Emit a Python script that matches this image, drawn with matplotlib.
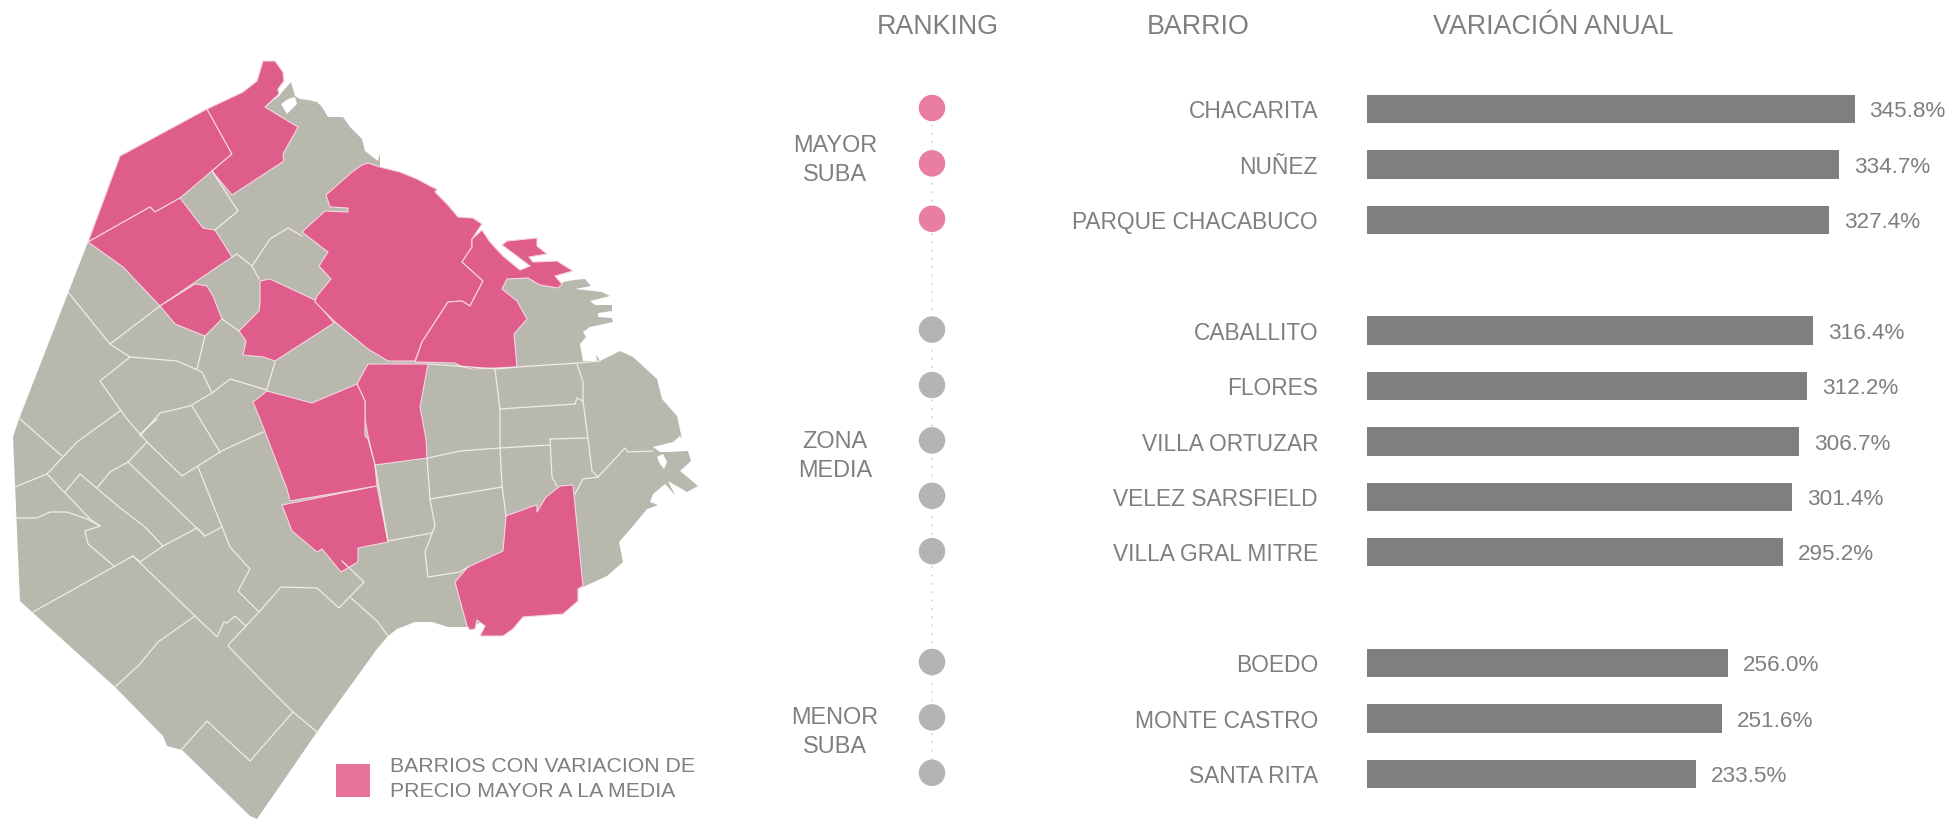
import matplotlib
matplotlib.use("Agg")
import matplotlib.pyplot as plt
from matplotlib.patches import Polygon, Rectangle

plt.rcParams['font.family'] = ['Liberation Sans', 'DejaVu Sans']

# ---------- datos ----------
barrios = ["CHACARITA", "NUÑEZ", "PARQUE CHACABUCO",
           "CABALLITO", "FLORES", "VILLA ORTUZAR", "VELEZ SARSFIELD", "VILLA GRAL MITRE",
           "BOEDO", "MONTE CASTRO", "SANTA RITA"]
variacion = [345.8, 334.7, 327.4, 316.4, 312.2, 306.7, 301.4, 295.2, 256.0, 251.6, 233.5]
filas = [0, 1, 2, 4, 5, 6, 7, 8, 10, 11, 12]
grupo_fila = ["mayor"] * 3 + ["media"] * 5 + ["menor"] * 3
grupos = ["MAYOR\nSUBA", "ZONA\nMEDIA", "MENOR\nSUBA"]
grupos_centro = [0.92, 6.26, 11.24]
encabezados = ["RANKING", "BARRIO", "VARIACIÓN ANUAL"]
leyenda = "BARRIOS CON VARIACION DE\nPRECIO MAYOR A LA MEDIA"

# contorno de la ciudad in px
contorno = [(265,108),(279,97),(283,92),(291,83),(295,97),(300,100),(308,101),(317,103),(322,108),(328,118),(343,118),
            (350,128),(362,140),(365,152),(378,162),(380,154),(380,168),(507,280),(528,279),(540,286),(558,289),
            (563,283),(574,281),(585,280),(591,287),(575,290),(602,293),(610,297),(590,302),(595,306),(612,306),
            (612,312),(598,314),(598,318),(612,319),(613,323),(590,328),(583,333),(590,345),(600,362),(620,352),
            (633,358),(657,380),(662,400),(677,417),(682,440),(680,437),(673,443),(653,448),(660,453),(667,453),
            (688,452),(691,462),(680,472),(698,487),(687,493),(668,482),(675,496),(665,485),(653,495),(650,503),
            (658,506),(647,510),(633,527),(619,543),(623,563),(607,577),(583,588),(468,628),(448,628),(432,623),
            (415,623),(397,630),(388,637),(377,650),(317,733),(257,820),(250,817),(182,751),(167,747),(163,737),
            (115,688),(32,613),(20,602),(13,438),(19,420),(88,243),(200,170)]
huecos = [[(281,105),(288,100),(295,98),(297,105),(287,115)],
          [(580,345),(587,337),(595,348),(597,362),(583,362)],
          [(657,458),(663,455),(667,463),(664,470),(660,465)]]

barrios_rosa = [
    [(88,243),(120,157),(207,110),(232,155),(212,172),(180,199),(155,213),(150,208)],
    [(207,110),(243,93),(257,82),(263,62),(275,62),(283,73),(284,82),(278,90),(279,95),(265,108),(298,128),
     (283,155),(284,162),(232,196),(212,172),(232,155)],
    [(88,243),(150,208),(155,213),(180,199),(203,229),(215,231),(232,258),(160,307),(123,268)],
    [(160,307),(195,285),(207,287),(213,297),(222,320),(205,337),(175,325)],
    [(260,282),(270,280),(315,301),(334,324),(275,362),(263,358),(243,356),(246,342),(239,332),(259,312),(260,303)],
    [(302,233),(325,212),(348,213),(348,209),(330,208),(326,196),(352,173),(362,166),(368,164),(380,168),(400,173),
     (417,180),(432,188),(437,190),(435,193),(447,205),(458,218),(473,219),(482,225),(472,240),(472,248),(462,263),
     (483,282),(470,307),(462,302),(448,303),(422,343),(415,362),(388,362),(368,350),(335,323),(315,303),(317,297),
     (331,280),(319,267),(328,253)],
    [(415,363),(422,343),(448,303),(462,302),(470,307),(483,282),(462,263),(472,248),(472,240),(482,231),(490,243),
     (503,257),(520,271),(530,267),(502,246),(507,242),(537,239),(537,247),(547,255),(529,258),(533,263),(557,262),
     (573,272),(555,277),(562,285),(558,289),(540,286),(528,279),(507,280),(502,290),(517,302),(527,320),(514,335),
     (517,368),(473,370),(463,368),(455,364)],
    [(368,365),(428,365),(420,408),(426,440),(427,459),(375,466),(368,437),(365,420),(365,402),(357,385)],
    [(253,403),(267,392),(312,404),(357,385),(365,402),(365,437),(368,440),(375,466),(377,487),(290,502),(287,490),(260,420)],
    [(282,506),(377,487),(388,543),(358,549),(358,563),(341,573),(322,550),(317,553),(292,532)],
    [(455,583),(468,568),(503,552),(506,517),(533,507),(537,506),(537,513),(546,498),(560,487),(573,486),(583,587),
     (578,590),(578,602),(563,615),(523,618),(513,630),(503,637),(480,637),(485,627),(477,621),(475,630),(470,631),(467,627)],
]

limites = [
    [(68,293),(110,345),(130,358),(177,362),(202,373),(212,394),(190,407),(160,414),(140,437)],
    [(110,345),(160,307)],
    [(130,358),(100,382),(127,420),(147,443),(182,477),(220,453),(230,448),(263,433)],
    [(120,412),(77,443),(47,475),(15,488)],
    [(20,420),(62,457)],
    [(205,337),(197,370)],
    [(222,320),(239,332)],
    [(237,255),(252,267),(259,280)],
    [(252,267),(270,240),(288,229),(302,237)],
    [(212,172),(238,212),(215,231)],
    [(232,258),(237,255)],
    [(275,363),(267,390)],
    [(212,394),(230,380),(267,391)],
    [(192,407),(220,453)],
    [(198,468),(230,548),(250,570),(238,592),(259,613),(281,588),(317,589),(339,609),(364,583),(342,562)],
    [(351,599),(377,622),(388,637)],
    [(259,613),(246,627),(230,644),(228,647),(263,683),(293,713),(317,733)],
    [(293,713),(250,762),(207,722),(182,750)],
    [(133,557),(195,617),(217,638),(224,623),(227,624),(235,617),(246,627)],
    [(195,617),(158,643),(140,665),(115,688)],
    [(33,613),(133,557),(140,563),(163,547),(197,529),(205,537),(222,528)],
    [(47,475),(90,520),(100,527)],
    [(15,519),(37,519),(50,513),(67,513),(87,520),(100,527),(85,532),(88,545),(114,567)],
    [(65,493),(80,475),(119,508),(145,528),(163,547)],
    [(97,489),(110,473),(128,463),(205,537)],
    [(128,463),(147,443)],
    [(140,435),(157,420)],
    [(429,365),(497,370),(517,368),(578,364),(600,362)],
    [(495,370),(500,410),(500,449),(502,487),(506,517)],
    [(500,410),(575,405),(577,399),(583,402)],
    [(577,365),(583,383),(583,402),(588,440),(592,472),(598,478)],
    [(598,478),(625,449),(628,453),(653,452)],
    [(598,478),(583,480),(575,495)],
    [(428,459),(460,452),(500,449),(550,446)],
    [(550,440),(587,439)],
    [(550,440),(552,478),(557,487)],
    [(427,459),(430,500),(435,527),(425,553),(428,578),(460,573),(468,568)],
    [(430,500),(502,488)],
    [(375,466),(388,542),(432,534)],
]

# ---------- colores ----------
gris_mapa = "#B8B8AE"
rosa_mapa = "#DE5D8A"
rosa_claro = "#E8739C"
rosa_punto = "#E97DA2"
gris_punto = "#B4B4B4"
gris_barra = "#7F7F7F"
gris_texto = "#7F7F7F"
borde = "#EEEDE6"

fig = plt.figure(figsize=(19.51, 8.2), dpi=100)

# ---------- mapa, en pixeles ----------
ax = fig.add_axes([0, 0, 1, 1])
ax.set_xlim(0, 1951)
ax.set_ylim(820, 0)
ax.axis('off')

ax.add_patch(Polygon(contorno, closed=True, facecolor=gris_mapa, edgecolor='none'))
for hueco in huecos:
    ax.add_patch(Polygon(hueco, closed=True, facecolor='white', edgecolor='none'))
for linea in limites:
    xs, ys = zip(*linea)
    ax.plot(xs, ys, color=borde, lw=0.9, solid_joinstyle='round')
for poli in barrios_rosa:
    ax.add_patch(Polygon(poli, closed=True, facecolor=rosa_mapa, edgecolor='#F6D6E1', lw=0.8, joinstyle='round'))

ax.add_patch(Rectangle((336, 765), 34, 33, facecolor=rosa_claro, edgecolor='none'))
ax.text(390, 779, leyenda, color=gris_texto, fontsize=15.3, va='center', ha='left', linespacing=1.4)

for texto, x in zip(encabezados, [937.5, 1198, 1553.5]):
    ax.text(x, 27.5, texto, color=gris_texto, fontsize=19.25, ha='center', va='center')

# ---------- barras y ranking ----------
paso = 55.4
y_barras = 110
y_puntos = 109
escala = 1.41  # px por unidad
ax2 = fig.add_axes([1367 / 1951, 0, 584 / 1951, 1])
ax2.set_xlim(0, 584 / escala)
ax2.set_ylim((820 - y_barras) / paso, -y_barras / paso)
ax2.axis('off')
ax2.patch.set_alpha(0)
ax2.barh(filas, variacion, height=28.5 / paso, color=gris_barra)
for fila, valor, nombre in zip(filas, variacion, barrios):
    ax2.text(valor + 15 / escala, fila + 0.03, f"{valor:.1f}%", color=gris_texto, fontsize=16.2, va='center', ha='left')
    ax2.text(-49 / escala, fila + 0.03, nombre, color=gris_texto, fontsize=16.35, va='center', ha='right', clip_on=False)

# eje del ranking comparte las filas
ax3 = fig.add_axes([0, 0, 1, 1])
ax3.set_xlim(0, 1951)
ax3.set_ylim((820 - y_puntos) / paso, -y_puntos / paso)
ax3.axis('off')
ax3.patch.set_alpha(0)
ax3.plot([932, 932], [filas[0], filas[-1]], color="#D2D2D2", lw=1.2, ls=(0, (1, 4)), zorder=1)
colores = [rosa_punto if g == "mayor" else gris_punto for g in grupo_fila]
ax3.scatter([932] * len(filas), filas, s=(26.5 * 0.72) ** 2, c=colores, edgecolors='none', zorder=2)
for texto, centro in zip(grupos, grupos_centro):
    ax3.text(835, centro, texto, color=gris_texto, fontsize=16.9, ha='center', va='center', linespacing=1.32)

fig.savefig("out.png", dpi=100)
